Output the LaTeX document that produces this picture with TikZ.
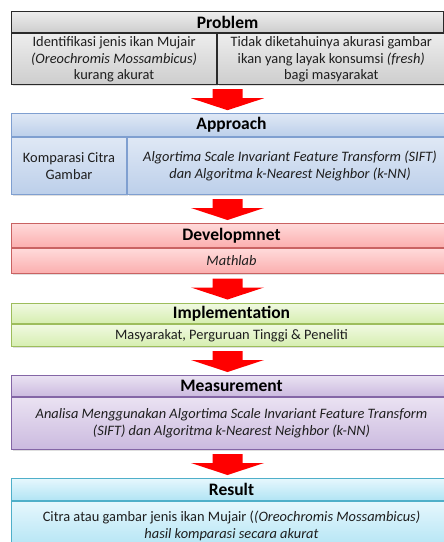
\documentclass[tikz,border=0pt]{standalone}
\usepackage{fontspec}
\setmainfont{Carlito}
\usetikzlibrary{shadows,calc}
\definecolor{probline}{HTML}{2A2A2A}\definecolor{probtop}{HTML}{EDEDED}\definecolor{probbot}{HTML}{CDCDCD}
\definecolor{appline}{HTML}{7F9FD0}\definecolor{apptop}{HTML}{DFE8F5}\definecolor{appbot}{HTML}{BCCFEA}
\definecolor{devline}{HTML}{C96262}\definecolor{devtop}{HTML}{FFDADA}\definecolor{devbot}{HTML}{FBAEAE}
\definecolor{impline}{HTML}{9DBD5C}\definecolor{imptop}{HTML}{F0F9E1}\definecolor{impbot}{HTML}{D6EEB0}
\definecolor{mealine}{HTML}{8466A6}\definecolor{meatop}{HTML}{EAE2F2}\definecolor{meabot}{HTML}{CBBADF}
\definecolor{resline}{HTML}{4FAFC9}\definecolor{restop}{HTML}{E6F7FD}\definecolor{resbot}{HTML}{B1E4F4}
\definecolor{arrowred}{HTML}{FF0000}
\definecolor{txt}{HTML}{1E1E1E}
\newcommand\hdrfnt{\fontsize{17.5}{20}\selectfont\bfseries}
\newcommand\bodyfnt{\fontsize{14.4}{16.8}\selectfont}
\newcommand\blockarrow[1]{\fill[arrowred] (#1) ++(-15,-10) -- ++(30,0) -- ++(0,9) -- ++(21.5,0) -- ++(-36.5,12) -- ++(-36.5,-12) -- ++(21.5,0) -- cycle;}
\tikzset{
  base/.style={rectangle, draw, inner sep=0pt, align=center, anchor=north west, text=txt,
    drop shadow={shadow xshift=1.5pt, shadow yshift=-1.5pt, opacity=0.25}},
  hdr/.style={base, font=\hdrfnt, text=black},
  cell/.style={base, font=\bodyfnt},
  probc/.style={draw=probline, line width=1.2pt, top color=probtop, bottom color=probbot},
  appc/.style={draw=appline, line width=1pt, top color=apptop, bottom color=appbot},
  devc/.style={draw=devline, line width=1pt, top color=devtop, bottom color=devbot},
  impc/.style={draw=impline, line width=1pt, top color=imptop, bottom color=impbot},
  meac/.style={draw=mealine, line width=1pt, top color=meatop, bottom color=meabot},
  resc/.style={draw=resline, line width=1pt, top color=restop, bottom color=resbot},
}
\begin{document}
\begin{tikzpicture}[x=1pt,y=-1pt]
\useasboundingbox (0,0) rectangle (444,542);
\clip (0,0) rectangle (444,542);
\fill[white] (0,0) rectangle (444,542);
% Problem
\node[hdr, probc, minimum width=432pt, minimum height=21pt] (ph) at (11,11) {Problem};
\node[cell, probc, minimum width=205pt, minimum height=51pt] (pb1) at (ph.south west)
  {Identifikasi jenis ikan Mujair\\ \textit{(Oreochromis Mossambicus)}\\ kurang akurat};
\node[cell, probc, minimum width=227pt, minimum height=51pt] (pb2) at (pb1.north east)
  {Tidak diketahuinya akurasi gambar\\ ikan yang layak konsumsi \textit{(fresh)}\\ bagi masyarakat};
% Approach
\node[hdr, appc, minimum width=440pt, minimum height=23pt] (ah) at (11,113) {Approach};
\node[cell, appc, minimum width=115pt, minimum height=57pt] (ab1) at (ah.south west)
  {Komparasi Citra\\ Gambar};
\node[cell, appc, minimum width=325pt, minimum height=57pt] (ab2) at (ab1.north east)
  {\itshape Algortima Scale Invariant Feature Transform (SIFT)\\ \itshape dan Algoritma k-Nearest Neighbor (k-NN)};
% Development
\node[hdr, devc, minimum width=440pt, minimum height=24pt] (dh) at (11,223) {Developmnet};
\node[cell, devc, minimum width=440pt, minimum height=25pt] (db) at (dh.south west) {\textit{Mathlab}};
% Implementation
\node[hdr, impc, minimum width=440pt, minimum height=20pt] (ih) at (11,303) {Implementation};
\node[cell, impc, minimum width=440pt, minimum height=22pt] (ib) at (ih.south west) {Masyarakat, Perguruan Tinggi \& Peneliti};
% Measurement
\node[hdr, meac, minimum width=440pt, minimum height=21pt] (mh) at (11,375) {Measurement};
\node[cell, meac, minimum width=440pt, minimum height=52pt] (mb) at (mh.south west)
  {\itshape Analisa Menggunakan Algortima Scale Invariant Feature Transform\\ \itshape (SIFT) dan Algoritma k-Nearest Neighbor (k-NN)};
% Result
\node[hdr, resc, minimum width=440pt, minimum height=22pt] (rh) at (11,478) {Result};
\node[cell, resc, minimum width=440pt, minimum height=48pt] (rb) at (rh.south west)
  {Citra atau gambar jenis ikan Mujair (\textit{(Oreochromis Mossambicus)}\\ \textit{hasil komparasi secara akurat}};
% Arrows
\coordinate (a1) at ($(pb1.south)!0.5!(ah.north)$);
\coordinate (a2) at ($(ab1.south)!0.5!(dh.north)$);
\coordinate (a3) at ($(db.south)!0.5!(ih.north)$);
\coordinate (a4) at ($(ib.south)!0.5!(mh.north)$);
\coordinate (a5) at ($(mb.south)!0.5!(rh.north)$);
\blockarrow{227.5,0 |- a1}
\blockarrow{227.5,0 |- a2}
\blockarrow{227.5,0 |- a3}
\blockarrow{227.5,0 |- a4}
\blockarrow{227.5,0 |- a5}
\end{tikzpicture}
\end{document}
